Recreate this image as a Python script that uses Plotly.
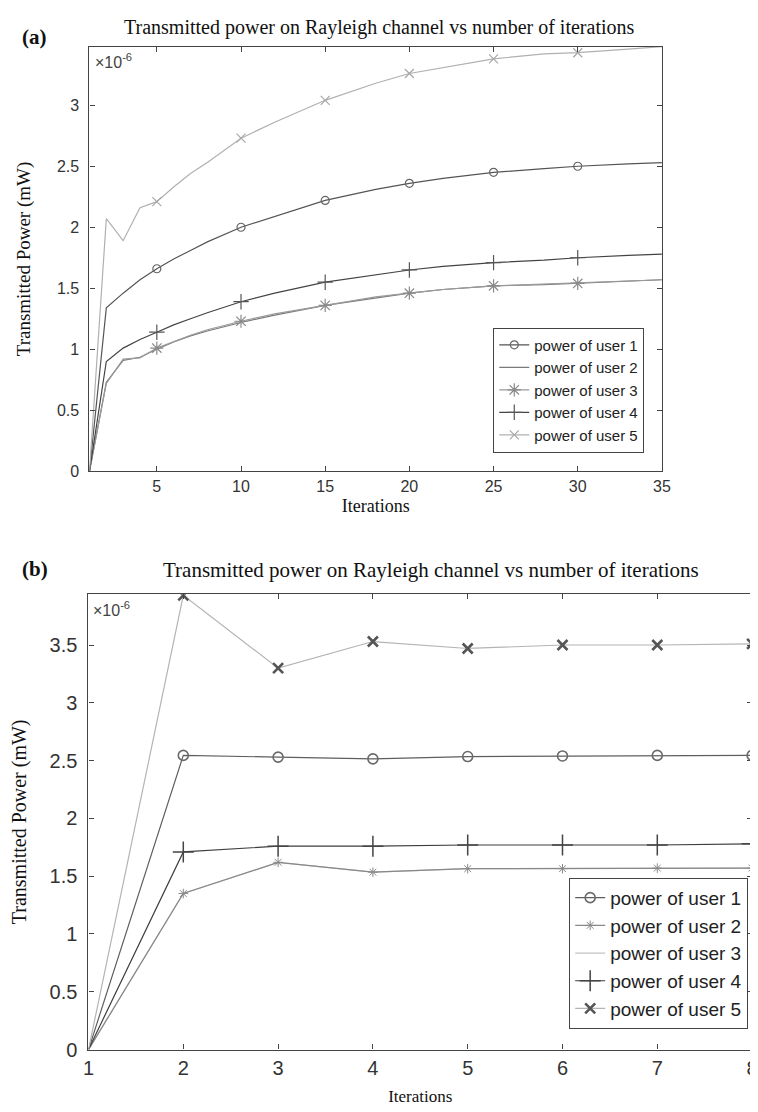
import plotly.graph_objects as go

# ---------------- data (values in units of 1e-6 mW) ----------------
iter_a = [1, 2, 3, 4, 5, 6, 7, 8, 10, 12, 15, 18, 20, 22, 25, 28, 30, 33, 35]
a_user1 = [0, 1.34, 1.46, 1.57, 1.66, 1.74, 1.81, 1.88, 2.00, 2.09, 2.22, 2.31, 2.36, 2.40, 2.45, 2.48, 2.50, 2.52, 2.53]
a_user2 = [0, 0.73, 0.91, 0.935, 1.00, 1.06, 1.11, 1.15, 1.22, 1.28, 1.36, 1.42, 1.46, 1.49, 1.52, 1.53, 1.54, 1.56, 1.57]
a_user3 = [0, 0.72, 0.92, 0.93, 1.01, 1.065, 1.115, 1.16, 1.23, 1.29, 1.36, 1.43, 1.46, 1.49, 1.52, 1.535, 1.54, 1.56, 1.57]
a_user4 = [0, 0.90, 1.01, 1.08, 1.14, 1.20, 1.25, 1.30, 1.39, 1.46, 1.55, 1.61, 1.65, 1.68, 1.71, 1.73, 1.75, 1.77, 1.78]
a_user5 = [0, 2.07, 1.89, 2.16, 2.21, 2.33, 2.44, 2.53, 2.73, 2.86, 3.04, 3.18, 3.26, 3.31, 3.38, 3.42, 3.43, 3.46, 3.48]
a_marker_iters = [5, 10, 15, 20, 25, 30]
a_xticks = [5, 10, 15, 20, 25, 30, 35]

iter_b = [1, 2, 3, 4, 5, 6, 7, 8]
b_user1 = [0, 2.545, 2.53, 2.515, 2.535, 2.54, 2.545, 2.545]
b_user2 = [0, 1.35, 1.62, 1.535, 1.565, 1.565, 1.57, 1.57]
b_user3 = [0, 1.35, 1.62, 1.535, 1.565, 1.565, 1.57, 1.57]
b_user4 = [0, 1.71, 1.76, 1.76, 1.77, 1.77, 1.77, 1.78]
b_user5 = [0, 3.93, 3.30, 3.53, 3.47, 3.50, 3.50, 3.51]
b_marker_iters = [2, 3, 4, 5, 6, 7, 8]
b_xticks = [1, 2, 3, 4, 5, 6, 7, 8]

names = ["power of user 1", "power of user 2", "power of user 3", "power of user 4", "power of user 5"]
title_text = "Transmitted power on Rayleigh channel vs number of iterations"

SANS = "Liberation Sans, Arial, sans-serif"
SERIF = "Liberation Serif, Times New Roman, serif"

fig = go.Figure()


def add_user(xs, ys, marker_iters, name, color, symbol, msize, mcolor, mlw,
             xaxis, yaxis, legend, rank, lw=1.2):
    fig.add_trace(go.Scatter(x=xs, y=ys, mode="lines", line=dict(color=color, width=lw),
                             showlegend=False, hoverinfo="skip", xaxis=xaxis, yaxis=yaxis))
    if symbol is not None:
        mx = [x for x in xs if x in marker_iters]
        my = [y for x, y in zip(xs, ys) if x in marker_iters]
        fig.add_trace(go.Scatter(x=mx, y=my, mode="markers",
                                 marker=dict(symbol=symbol, size=msize, color=mcolor,
                                             line=dict(color=mcolor, width=mlw)),
                                 showlegend=False, xaxis=xaxis, yaxis=yaxis))
    fig.add_trace(go.Scatter(x=[None], y=[None],
                             mode="lines+markers" if symbol is not None else "lines",
                             line=dict(color=color, width=lw),
                             marker=dict(symbol=symbol or "circle", size=msize, color=mcolor,
                                         line=dict(color=mcolor, width=mlw)),
                             name=name, legend=legend, legendrank=rank,
                             xaxis=xaxis, yaxis=yaxis))


# ---- panel (a)
add_user(iter_a, a_user2, a_marker_iters, names[1], "#7a7a7a", None, 8, "#7a7a7a", 1, "x", "y", "legend", 2)
add_user(iter_a, a_user3, a_marker_iters, names[2], "#9a9a9a", "asterisk-open", 11, "#8a8a8a", 1.2, "x", "y", "legend", 3)
add_user(iter_a, a_user1, a_marker_iters, names[0], "#555555", "circle-open", 8, "#666666", 1.2, "x", "y", "legend", 1)
add_user(iter_a, a_user4, a_marker_iters, names[3], "#444444", "cross-thin-open", 11, "#555555", 1.2, "x", "y", "legend", 4)
add_user(iter_a, a_user5, a_marker_iters, names[4], "#b0b0b0", "x-thin-open", 9, "#a8a8a8", 1.2, "x", "y", "legend", 5)

# ---- panel (b)
add_user(iter_b, b_user3, b_marker_iters, names[2], "#c4c4c4", None, 8, "#c4c4c4", 1, "x2", "y2", "legend2", 3)
add_user(iter_b, b_user2, b_marker_iters, names[1], "#888888", "asterisk-open", 8, "#8a8a8a", 1.0, "x2", "y2", "legend2", 2)
add_user(iter_b, b_user1, b_marker_iters, names[0], "#5e5e5e", "circle-open", 10, "#6a6a6a", 1.6, "x2", "y2", "legend2", 1)
add_user(iter_b, b_user4, b_marker_iters, names[3], "#3e3e3e", "cross-thin-open", 15, "#444444", 1.5, "x2", "y2", "legend2", 4)
add_user(iter_b, b_user5, b_marker_iters, names[4], "#b4b4b4", "x-thin-open", 10, "#555555", 2.6, "x2", "y2", "legend2", 5)

W, H = 758, 1112

axis_common = dict(showgrid=False, zeroline=False, showline=True, linecolor="#444444",
                   linewidth=1.3, mirror="ticks", ticks="inside", ticklen=5,
                   tickcolor="#444444", tickwidth=1.2)

fig.update_layout(
    width=W, height=H,
    margin=dict(l=0, r=0, t=0, b=0),
    paper_bgcolor="white", plot_bgcolor="white",
    xaxis=dict(domain=[77 / W, 661 / W], range=[1, 35], tickvals=a_xticks,
               tickfont=dict(family=SANS, size=16, color="#333333"),
               title=dict(text="Iterations", font=dict(family=SERIF, size=18, color="#111111"), standoff=5),
               anchor="y", **axis_common),
    yaxis=dict(domain=[1 - 468 / H, 1 - 39 / H], range=[0, 3.48], dtick=0.5, tick0=0,
               tickfont=dict(family=SANS, size=16, color="#333333"),
               title=dict(text="Transmitted Power (mW)", font=dict(family=SERIF, size=19, color="#111111"), standoff=21),
               ticklabelstandoff=6, anchor="x", **axis_common),
    xaxis2=dict(domain=[76 / W, 753 / W], range=[1, 8], tickvals=b_xticks,
                tickfont=dict(family=SANS, size=20, color="#333333"),
                title=dict(text="Iterations", font=dict(family=SERIF, size=17, color="#111111"), standoff=12),
                anchor="y2", **axis_common),
    yaxis2=dict(domain=[1 - 1052 / H, 1 - 592 / H], range=[0, 3.94], dtick=0.5, tick0=0,
                tickfont=dict(family=SANS, size=20, color="#333333"),
                title=dict(text="Transmitted Power (mW)", font=dict(family=SERIF, size=20, color="#111111"), standoff=22),
                ticklabelstandoff=6, anchor="x2", **axis_common),
    legend=dict(x=643 / W, y=1 - 449 / H, xanchor="right", yanchor="bottom",
                bgcolor="white", bordercolor="#444444", borderwidth=1,
                font=dict(family=SANS, size=15, color="#222222"),
                tracegroupgap=0, itemwidth=30),
    legend2=dict(x=749 / W, y=1 - 1031 / H, xanchor="right", yanchor="bottom",
                 bgcolor="white", bordercolor="#444444", borderwidth=1,
                 font=dict(family=SANS, size=19, color="#222222"),
                 tracegroupgap=0, itemwidth=30),
    showlegend=True,
)

annotations = [
    dict(text=title_text, x=372 / W, y=1 - 20 / H, xref="paper", yref="paper",
         xanchor="center", yanchor="middle", showarrow=False,
         font=dict(family=SERIF, size=20, color="#111111")),
    dict(text=title_text, x=425 / W, y=1 - 568 / H, xref="paper", yref="paper",
         xanchor="center", yanchor="middle", showarrow=False,
         font=dict(family=SERIF, size=21, color="#111111")),
    dict(text="<b>(a)</b>", x=6 / W, y=1 - 29 / H, xref="paper", yref="paper",
         xanchor="left", yanchor="middle", showarrow=False,
         font=dict(family=SERIF, size=21, color="#111111")),
    dict(text="<b>(b)</b>", x=6 / W, y=1 - 567 / H, xref="paper", yref="paper",
         xanchor="left", yanchor="middle", showarrow=False,
         font=dict(family=SERIF, size=21, color="#111111")),
    dict(text="×10<sup>-6</sup>", x=81 / W, y=1 - 54 / H, xref="paper", yref="paper",
         xanchor="left", yanchor="middle", showarrow=False,
         font=dict(family=SANS, size=16, color="#444444")),
    dict(text="×10<sup>-6</sup>", x=79 / W, y=1 - 607 / H, xref="paper", yref="paper",
         xanchor="left", yanchor="middle", showarrow=False,
         font=dict(family=SANS, size=16, color="#444444")),
]
fig.update_layout(annotations=annotations)

fig.write_html("out.html")
